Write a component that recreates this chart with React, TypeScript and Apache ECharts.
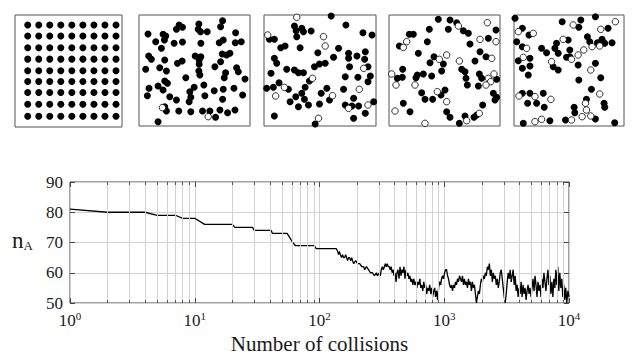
import React, { useEffect, useRef } from "react";
import * as echarts from "echarts";

// ---------- bottom chart data ----------
const nATrace: [number, number][] = [
  [1, 81], [2, 80], [4, 80], [5, 79], [7, 79], [8, 78], [10, 78], [12, 76], [20, 76], [21, 75],
  [29, 75], [30, 74], [41, 74], [42, 73], [55, 73], [57, 72], [59, 71], [61, 70], [64, 69], [91, 69],
  [94, 68], [136, 68],
  [140, 67], [142, 66], [144, 67], [147, 66], [150, 65], [153, 66], [156, 65], [159, 65], [162, 66], [165, 65],
  [168, 64], [171, 65], [174, 65], [178, 64], [181, 65], [184, 64], [188, 63], [195, 64], [202, 63], [210, 63],
  [218, 62], [226, 62], [230, 61], [238, 62], [247, 61], [256, 60], [266, 60], [275, 59], [286, 60], [291, 59],
  [302, 60], [307, 59], [313, 61], [319, 62], [325, 61], [331, 62], [337, 63], [343, 62], [349, 63], [356, 62],
  [362, 62], [369, 61], [375, 62], [382, 60], [389, 61], [396, 59], [403, 60], [411, 57], [418, 60], [426, 61],
  [434, 58], [442, 62], [450, 59], [458, 61], [467, 60], [475, 62], [484, 58], [493, 61], [502, 59], [511, 60],
  [521, 58], [530, 59], [540, 57], [550, 58], [560, 56], [570, 58], [581, 56], [592, 57], [603, 55], [614, 57],
  [625, 56], [637, 58], [648, 55], [660, 56], [673, 54], [685, 57], [698, 55], [711, 56], [724, 53], [737, 55],
  [751, 54], [765, 56], [779, 53], [793, 55], [808, 52], [823, 54], [838, 55], [853, 52], [869, 54], [885, 51],
  [901, 55], [918, 57], [935, 56], [952, 58], [970, 59], [988, 58], [1006, 60], [1025, 61], [1044, 61], [1063, 59],
  [1082, 58], [1102, 56], [1123, 55], [1144, 56], [1165, 54], [1186, 56], [1208, 55], [1231, 57], [1253, 56], [1277, 58],
  [1300, 57], [1325, 59], [1349, 58], [1374, 57], [1400, 59], [1426, 56], [1452, 58], [1479, 56], [1507, 57], [1535, 55],
  [1563, 58], [1592, 56], [1622, 57], [1652, 54], [1682, 57], [1714, 55], [1745, 56], [1778, 53], [1811, 50], [1844, 52],
  [1879, 54], [1913, 53], [1949, 56], [1985, 58], [2022, 57], [2059, 59], [2097, 58], [2136, 60], [2176, 59], [2216, 62],
  [2257, 61], [2299, 63], [2341, 59], [2385, 61], [2429, 57], [2474, 60], [2519, 58], [2566, 59], [2613, 56], [2662, 58],
  [2711, 55], [2761, 57], [2812, 60], [2864, 61], [2917, 58], [2971, 55], [3026, 52], [3082, 50], [3139, 53], [3197, 57],
  [3256, 60], [3316, 58], [3378, 61], [3440, 57], [3504, 59], [3568, 61], [3634, 56], [3702, 59], [3770, 54], [3840, 56],
  [3911, 52], [3983, 55], [4057, 53], [4132, 57], [4208, 52], [4286, 56], [4365, 53], [4446, 55], [4528, 51], [4612, 54],
  [4697, 56], [4784, 53], [4872, 55], [4962, 52], [5054, 55], [5148, 58], [5243, 54], [5340, 59], [5438, 56], [5539, 52],
  [5641, 57], [5746, 54], [5852, 56], [5960, 52], [6070, 58], [6183, 55], [6297, 60], [6413, 57], [6532, 54], [6653, 58],
  [6776, 61], [6901, 56], [7028, 59], [7158, 53], [7291, 57], [7425, 52], [7563, 58], [7702, 55], [7845, 61], [7990, 56],
  [8137, 62], [8288, 54], [8441, 60], [8597, 55], [8756, 58], [8918, 52], [9083, 56], [9250, 51], [9421, 55], [9596, 50],
  [9800, 54], [10000, 52],
];

const minorGridValues = [
  2, 3, 4, 5, 6, 7, 8, 9, 20, 30, 40, 50, 60, 70, 80, 90,
  200, 300, 400, 500, 600, 700, 800, 900, 2000, 3000, 4000, 5000, 6000, 7000, 8000, 9000,
];
const yTicks = [50, 60, 70, 80, 90];

// ---------- particle snapshots (reading frame coordinates) ----------
const latticeCols = [83, 116, 149, 182, 215, 248, 281, 314, 347];
const latticeRows = [75, 108, 143, 177, 212, 244, 277, 312, 348];

const panel2A: [number, number][] = [
  [148, 75], [140, 88], [158, 82], [207, 72], [205, 88], [212, 95], [232, 95], [278, 62], [272, 80], [317, 98],
  [55, 102], [100, 103], [108, 108], [104, 120], [78, 125], [133, 130], [158, 126], [213, 130], [268, 128], [280, 120],
  [316, 128], [334, 125], [95, 145], [57, 168], [65, 178], [105, 180], [143, 190], [157, 183], [196, 168], [213, 170],
  [208, 193], [277, 162], [300, 160], [272, 185], [48, 208], [90, 203], [110, 213], [207, 213], [210, 225], [255, 200],
  [287, 218], [283, 233], [320, 203], [325, 215], [345, 237], [168, 233], [105, 243], [113, 250], [85, 258], [58, 265],
  [53, 287], [100, 270], [120, 290], [222, 255], [193, 262], [180, 275], [253, 272], [312, 265], [183, 292], [178, 305],
  [225, 287], [140, 300], [278, 298], [338, 285], [105, 320], [110, 333], [147, 333], [183, 335], [218, 333], [240, 333],
  [270, 330], [293, 338], [315, 330], [257, 352], [85, 365], [208, 180], [290, 165], [280, 268],
];
const panel2B: [number, number][] = [[235, 350], [98, 323]];

const panel3A: [number, number][] = [
  [228, 48], [272, 75], [118, 78], [140, 85], [123, 92], [145, 95], [168, 93], [323, 98], [350, 105], [43, 118],
  [58, 118], [125, 110], [90, 138], [77, 143], [135, 143], [250, 145], [188, 158], [280, 160], [305, 168], [330, 155],
  [328, 178], [58, 175], [65, 190], [235, 172], [210, 190], [193, 192], [178, 200], [283, 200], [338, 200], [95, 208],
  [118, 210], [130, 218], [145, 218], [48, 220], [270, 230], [308, 232], [345, 228], [163, 243], [72, 248], [55, 262],
  [35, 265], [100, 268], [150, 262], [215, 265], [265, 268], [140, 280], [122, 290], [198, 280], [223, 300], [148, 298],
  [105, 305], [160, 315], [130, 320], [295, 295], [270, 315], [290, 318], [310, 318], [355, 305], [330, 340], [295, 355],
  [58, 348], [180, 372], [280, 175], [338, 245], [193, 312],
];
const panel3B: [number, number][] = [
  [125, 52], [38, 105], [205, 110], [210, 138], [325, 205], [172, 235], [88, 262], [62, 288], [232, 287], [312, 268],
  [338, 315], [280, 325], [190, 355],
];

const panel4A: [number, number][] = [
  [175, 58], [210, 60], [230, 68], [250, 92], [265, 100], [205, 88], [148, 88], [88, 103], [100, 103], [142, 125],
  [58, 138], [270, 132], [325, 115], [348, 90], [115, 160], [162, 170], [150, 188], [190, 192], [185, 213], [300, 155],
  [318, 170], [285, 183], [245, 208], [255, 215], [298, 222], [305, 235], [258, 235], [262, 255], [350, 238], [68, 208],
  [52, 235], [67, 232], [108, 233], [130, 222], [155, 228], [112, 225], [295, 258], [125, 278], [135, 298], [158, 298],
  [183, 285], [195, 270], [340, 280], [350, 292], [345, 300], [70, 310], [90, 335], [200, 335], [210, 352], [238, 370],
  [255, 348], [282, 352], [290, 345], [308, 315],
];
const panel4B: [number, number][] = [
  [322, 68], [235, 78], [80, 125], [70, 142], [300, 118], [348, 125], [200, 165], [178, 178], [238, 183], [335, 175],
  [35, 222], [48, 255], [105, 255], [325, 235], [342, 222], [332, 245], [318, 255], [172, 275], [200, 305], [45, 333],
  [298, 340], [135, 370], [260, 362],
];

const panel5A: [number, number][] = [
  [30, 55], [172, 65], [228, 60], [272, 50], [222, 82], [52, 85], [310, 85], [72, 105], [35, 125], [52, 140],
  [248, 110], [255, 125], [278, 128], [292, 118], [300, 130], [322, 128], [155, 130], [150, 145], [190, 120], [110, 145],
  [125, 158], [160, 160], [195, 150], [195, 170], [185, 172], [40, 182], [75, 175], [52, 205], [75, 198], [145, 200],
  [160, 210], [220, 195], [272, 190], [70, 225], [222, 240], [288, 233], [260, 268], [52, 280], [75, 280], [115, 280],
  [68, 310], [95, 310], [118, 322], [245, 298], [298, 310], [300, 322], [208, 322], [210, 338], [182, 360], [135, 362],
  [55, 370], [272, 357], [330, 368],
];
const panel5B: [number, number][] = [
  [332, 65], [288, 88], [40, 95], [85, 100], [65, 145], [55, 172], [175, 118], [140, 185], [200, 178], [220, 165],
  [237, 150], [262, 140], [285, 138], [258, 210], [42, 288], [90, 290], [138, 298], [285, 282], [242, 310], [245, 330],
  [232, 350], [258, 348], [90, 365], [110, 358], [200, 360], [205, 75],
];

const FONT = "'Liberation Serif', 'Times New Roman', serif";
const TEXT = "#1a1a1a";
const GRID_GRAY = "#d2d2d2";

export default function App() {
  const ref = useRef<HTMLDivElement>(null);

  useEffect(() => {
    const chart = echarts.init(ref.current!, null, { renderer: "svg" });

    const panel1A: [number, number][] = [];
    latticeRows.forEach((r) => latticeCols.forEach((c) => panel1A.push([c, r])));

    const panels = [
      { a: panel1A, b: [] as [number, number][], grid: { left: 15, top: 15, width: 107, height: 112 }, fx: [45, 365], fy: [45, 380] },
      { a: panel2A, b: panel2B, grid: { left: 139, top: 15, width: 111, height: 111 }, fx: [28, 360], fy: [45, 378] },
      { a: panel3A, b: panel3B, grid: { left: 264, top: 15, width: 112, height: 111 }, fx: [27, 362], fy: [45, 378] },
      { a: panel4A, b: panel4B, grid: { left: 389, top: 15, width: 111, height: 111 }, fx: [27, 360], fy: [45, 378] },
      { a: panel5A, b: panel5B, grid: { left: 514, top: 15, width: 110, height: 111 }, fx: [27, 358], fy: [45, 378] },
    ];

    const grids: any[] = panels.map((p) => ({
      ...p.grid,
      show: true,
      borderColor: "#555",
      borderWidth: 1,
      backgroundColor: "transparent",
    }));
    grids.push({ left: 70, top: 182, width: 499, height: 121, show: true, borderColor: "#444", borderWidth: 1, backgroundColor: "transparent" });

    const xAxes: any[] = panels.map((p, i) => ({ type: "value", gridIndex: i, min: p.fx[0], max: p.fx[1], show: false }));
    const yAxes: any[] = panels.map((p, i) => ({ type: "value", gridIndex: i, min: p.fy[0], max: p.fy[1], inverse: true, show: false }));

    xAxes.push({
      type: "log",
      logBase: 10,
      gridIndex: 5,
      min: 1,
      max: 10000,
      axisLine: { show: false },
      axisTick: { show: true, inside: true, length: 5, lineStyle: { color: "#444" } },
      splitLine: { show: true, lineStyle: { color: GRID_GRAY, width: 1 } },
      axisLabel: {
        margin: 7,
        formatter: (v: number) => `{a|10}{b|${Math.round(Math.log10(v))}}`,
        rich: {
          a: { fontSize: 17, fontFamily: FONT, color: TEXT, lineHeight: 20 },
          b: { fontSize: 11, fontFamily: FONT, color: TEXT, verticalAlign: "top", lineHeight: 12 },
        },
      },
      name: "Number of collisions",
      nameLocation: "middle",
      nameGap: 30,
      nameTextStyle: { fontSize: 21, fontFamily: FONT, color: TEXT },
    });
    xAxes.push({
      type: "log",
      logBase: 10,
      gridIndex: 5,
      position: "top",
      min: 1,
      max: 10000,
      axisLine: { show: false },
      axisTick: { show: true, inside: true, length: 5, lineStyle: { color: "#444" } },
      axisLabel: { show: false },
      splitLine: { show: false },
    });
    yAxes.push({
      type: "value",
      gridIndex: 5,
      min: yTicks[0],
      max: yTicks[yTicks.length - 1],
      interval: 10,
      axisLine: { show: false },
      axisTick: { show: true, inside: true, length: 5, lineStyle: { color: "#444" } },
      splitLine: { show: true, lineStyle: { color: GRID_GRAY, width: 1 } },
      axisLabel: { margin: 7, fontSize: 17, fontFamily: FONT, color: TEXT },
    });
    yAxes.push({
      type: "value",
      gridIndex: 5,
      position: "right",
      min: yTicks[0],
      max: yTicks[yTicks.length - 1],
      interval: 10,
      axisLine: { show: false },
      axisTick: { show: true, inside: true, length: 5, lineStyle: { color: "#444" } },
      splitLine: { show: false },
      axisLabel: { show: false },
    });

    const series: any[] = [];
    panels.forEach((p, i) => {
      series.push({
        type: "scatter",
        xAxisIndex: i,
        yAxisIndex: i,
        data: p.a,
        symbol: "circle",
        symbolSize: 7,
        clip: false,
        silent: true,
        itemStyle: { color: "#000", opacity: 1 },
      });
      if (p.b.length) {
        series.push({
          type: "scatter",
          xAxisIndex: i,
          yAxisIndex: i,
          data: p.b,
          symbol: "circle",
          symbolSize: 6.5,
          clip: false,
          silent: true,
          itemStyle: { color: "#fff", borderColor: "#000", borderWidth: 0.8, opacity: 1 },
        });
      }
    });

    series.push({
      type: "line",
      xAxisIndex: 5,
      yAxisIndex: 5,
      data: [],
      z: 1,
      silent: true,
      markLine: {
        silent: true,
        symbol: ["none", "none"],
        label: { show: false },
        lineStyle: { color: GRID_GRAY, width: 1, type: "solid" },
        emphasis: { disabled: true },
        data: minorGridValues.map((v) => ({ xAxis: v })),
      },
    });
    series.push({
      type: "line",
      xAxisIndex: 5,
      yAxisIndex: 5,
      data: [],
      z: 4,
      silent: true,
      markLine: {
        silent: true,
        symbol: ["none", "none"],
        label: { show: false },
        lineStyle: { color: "#555", width: 1, type: "solid" },
        emphasis: { disabled: true },
        data: [
          ...minorGridValues.map((v) => [{ coord: [v, 50] }, { coord: [v, 51] }]),
          ...minorGridValues.map((v) => [{ coord: [v, 90] }, { coord: [v, 89] }]),
        ],
      },
    });
    series.push({
      type: "line",
      xAxisIndex: 5,
      yAxisIndex: 5,
      data: nATrace,
      z: 3,
      symbol: "none",
      showSymbol: false,
      silent: true,
      lineStyle: { color: "#000", width: 1.3 },
    });

    chart.setOption({
      animation: false,
      backgroundColor: "#fff",
      grid: grids,
      xAxis: xAxes,
      yAxis: yAxes,
      series,
      graphic: [
        {
          type: "text",
          left: 12,
          top: 229,
          style: {
            text: "{n|n}{s|A}",
            rich: {
              n: { fontSize: 23, fontFamily: FONT, fill: TEXT, lineHeight: 24, verticalAlign: "bottom" },
              s: { fontSize: 13, fontFamily: FONT, fill: TEXT, lineHeight: 13, verticalAlign: "bottom" },
            },
          },
        },
      ],
    });

    return () => chart.dispose();
  }, []);

  return <div ref={ref} style={{ position: "fixed", left: 0, top: 0, width: 640, height: 360 }} />;
}
